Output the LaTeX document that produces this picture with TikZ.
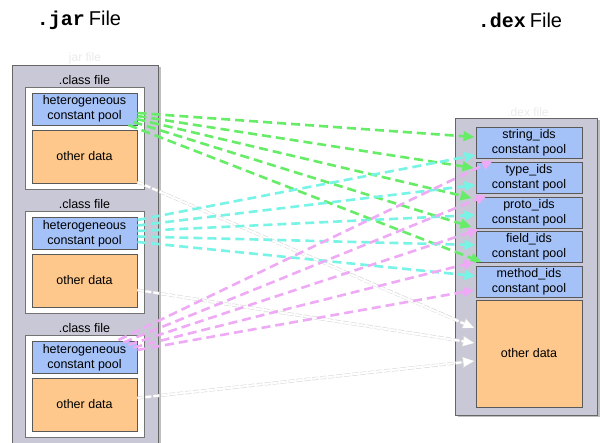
\documentclass[tikz,border=0pt]{standalone}
\usepackage{fontspec}
\setmainfont{Liberation Sans}
\setmonofont{Liberation Mono}
\usetikzlibrary{arrows.meta,shadows,calc}
\definecolor{outergray}{HTML}{C8C8D6}
\definecolor{poolblue}{HTML}{A4C2F8}
\definecolor{dataorange}{HTML}{FEC78B}
\definecolor{lgreen}{HTML}{66EC66}
\definecolor{lcyan}{HTML}{78F4E6}
\definecolor{lpink}{HTML}{EEAAF5}
\tikzset{
  lbl/.style={font=\fontsize{12.5}{15}\selectfont, inner sep=0pt},
  outerbox/.style={draw=black!60, fill=outergray, line width=0.9pt, drop shadow={shadow xshift=2.5pt, shadow yshift=-2.5pt, opacity=0.5}},
  classbox/.style={draw=black!55, fill=white, line width=0.9pt, minimum width=119pt, minimum height=102pt, inner sep=0pt},
  poolbox/.style={draw=black!65, fill=poolblue, line width=0.9pt, align=center, inner sep=0pt, font=\fontsize{12.5}{15}\selectfont},
  databox/.style={draw=black!65, fill=dataorange, line width=0.9pt, align=center, inner sep=0pt, font=\fontsize{12.5}{15}\selectfont},
  leftpool/.style={poolbox, minimum width=105pt, minimum height=32pt},
  leftdata/.style={databox, minimum width=105pt, minimum height=53pt},
  dexpool/.style={poolbox, minimum width=106pt, minimum height=31pt},
  conn/.style={dash pattern=on 9pt off 5pt, line width=2.6pt, -{Triangle[length=11pt,width=9.5pt]}},
  gconn/.style={conn, lgreen},
  cconn/.style={conn, lcyan},
  pconn/.style={conn, lpink},
  wback/.style={dash pattern=on 6pt off 2pt, line width=3.2pt, black!14, -{Triangle[length=12pt,width=10.5pt]}},
  wfront/.style={dash pattern=on 6pt off 2pt, line width=2pt, white, -{Triangle[length=10.5pt,width=8.5pt]}},
  faint/.style={font=\fontsize{12}{14}\selectfont, text=black!8, inner sep=0pt},
}
\begin{document}
\begin{tikzpicture}[x=1pt,y=-1pt]
\clip (0,0) rectangle (600,443);
\fill[white] (0,0) rectangle (600,443);

% titles
\node[inner sep=0pt] (tjar) at (79,20) {\fontsize{20}{24}\selectfont\ttfamily\bfseries .jar\hspace{4pt}\rmfamily\mdseries File};
\node[inner sep=0pt] (tdex) at (520,20) {\fontsize{20}{24}\selectfont\ttfamily\bfseries .dex\hspace{4pt}\rmfamily\mdseries File};

% jar outer box
\node[faint] (jarlbl) at (85,58) {jar file};
\draw[outerbox] (12,65) rectangle (158,460);

% class file 1
\node[lbl] (c1l) at (84.5,80) {.class file};
\node[classbox] (c1) at (84.5,138) {};
\node[leftpool] (p1) at (84.5,109) {heterogeneous\\constant pool};
\node[leftdata] (o1) at (84.5,156.5) {other data};

% class file 2
\node[lbl] (c2l) at (84.5,204) {.class file};
\node[classbox] (c2) at (84.5,262.5) {};
\node[leftpool] (p2) at (84.5,233.5) {heterogeneous\\constant pool};
\node[leftdata] (o2) at (84.5,280.5) {other data};

% class file 3
\node[lbl] (c3l) at (84.5,328) {.class file};
\node[classbox] (c3) at (84.5,386) {};
\node[leftpool] (p3) at (84.5,357.5) {heterogeneous\\constant pool};
\node[leftdata] (o3) at (84.5,404.5) {other data};

% dex box
\node[faint] (dexlbl) at (528,112) {.dex file};
\draw[outerbox] (455,118) rectangle (597,415);
\node[dexpool] (ds) at (529,142.5) {string\_ids\\constant pool};
\node[dexpool] (dt) at (529,177.5) {type\_ids\\constant pool};
\node[dexpool] (dp) at (529,212.5) {proto\_ids\\constant pool};
\node[dexpool] (df) at (529,246.5) {field\_ids\\constant pool};
\node[dexpool] (dm) at (529,281.5) {method\_ids\\constant pool};
\node[databox, minimum width=106pt, minimum height=107pt] (od) at (529,353.5) {other data};

% white (other data) connectors
\foreach \s/\so/\t in {o1/25.5/-25.5, o2/9.5/-10.5, o3/-6.5/7.5}{
  \draw[wback]  ($(\s.east)+(0,\so)$) -- ($(od.west)+(-1,\t)$);
  \draw[wfront] ($(\s.east)+(0,\so)$) -- ($(od.west)+(-1.5,\t)$);
}

% green connectors
\draw[gconn] ($(p1.east)+(0,4)$)   -- ($(ds.west)+(-1,-5.5)$);
\draw[gconn] ($(p1.east)+(0,7)$)   -- ($(dt.west)+(-2,-9.5)$);
\draw[gconn] ($(p1.east)+(-1,10)$) -- ($(dp.west)+(-4,-14.5)$);
\draw[gconn] ($(p1.east)+(-4,13)$) -- ($(df.west)+(-4,-19.5)$);
\draw[gconn] ($(p1.east)+(-9,16)$) -- ($(dm.west)+(6,-19.5)$);

% cyan connectors
\draw[cconn] ($(p2.east)+(0,-13.5)$) -- ($(ds.west)+(0,12.5)$);
\draw[cconn] ($(p2.east)+(0,-8)$)    -- ($(dt.west)+(0,7.5)$);
\draw[cconn] ($(p2.east)+(0,-2.5)$)  -- ($(dp.west)+(0,2.5)$);
\draw[cconn] ($(p2.east)+(0,3)$)     -- ($(df.west)+(0,-1.5)$);
\draw[cconn] ($(p2.east)+(0,8.5)$)   -- ($(dm.west)+(0,-5.5)$);

% pink connectors
\draw[pconn] ($(p3.east)+(-19,-17.5)$) -- ($(ds.south)+(-36,2)$);
\draw[pconn] ($(p3.east)+(-14,-15)$)   -- ($(dt.south)+(-42,2)$);
\draw[pconn] ($(p3.east)+(-9,-12.5)$)  -- ($(dp.south)+(-50,1)$);
\draw[pconn] ($(p3.east)+(-4,-10)$)    -- ($(df.west)+(-1,15.5)$);
\draw[pconn] ($(p3.east)+(0,-7.5)$)    -- ($(dm.west)+(-1,8.5)$);
\end{tikzpicture}
\end{document}
